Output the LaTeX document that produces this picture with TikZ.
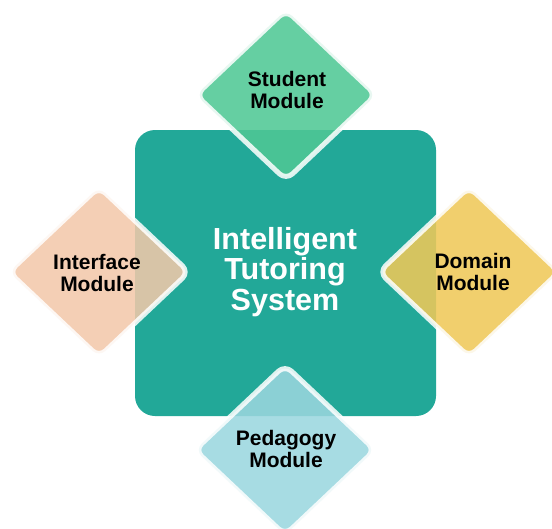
\documentclass[tikz,border=0pt]{standalone}
\usepackage{fontspec}
\setmainfont{Liberation Sans}
\definecolor{teal1}{RGB}{34,168,152}
\definecolor{cstudent}{RGB}{79,200,149}
\definecolor{cinterface}{RGB}{243,201,170}
\definecolor{cdomain}{RGB}{240,201,88}
\definecolor{cpedagogy}{RGB}{155,215,223}
\tikzset{
  dia/.style={draw=white, draw opacity=0.85, line width=5pt, fill opacity=0.87, rounded corners=9pt, line join=round},
  modtext/.style={font=\fontsize{21}{22.5}\selectfont\bfseries, align=center, text=black},
  centtext/.style={font=\fontsize{30.5}{30.5}\selectfont\bfseries, align=center, text=white}
}
\newcommand{\diamondat}[3]{% color, cx, cy
  \path[dia, fill=#1] (#2,#3-85) -- (#2+90,#3) -- (#2,#3+85) -- (#2-90,#3) -- cycle;
}
\begin{document}
\begin{tikzpicture}[x=1pt,y=-1pt]
\useasboundingbox (0,0) rectangle (552,528);
\fill[white] (0,0) rectangle (552,528);
\fill[teal1, rounded corners=20pt] (135,130) rectangle (436,416);
\node[centtext] (its) at (285,272) {Intelligent\\Tutoring\\System};
\diamondat{cstudent}{286}{95}
\diamondat{cinterface}{99}{272}
\diamondat{cdomain}{469}{272}
\diamondat{cpedagogy}{285}{450}
\node[modtext] (student) at (287,90) {Student\\Module};
\node[modtext] (interface) at (97,273) {Interface\\Module};
\node[modtext] (domain) at (473,272) {Domain\\Module};
\node[modtext] (pedagogy) at (286,449) {Pedagogy\\Module};
\end{tikzpicture}
\end{document}
